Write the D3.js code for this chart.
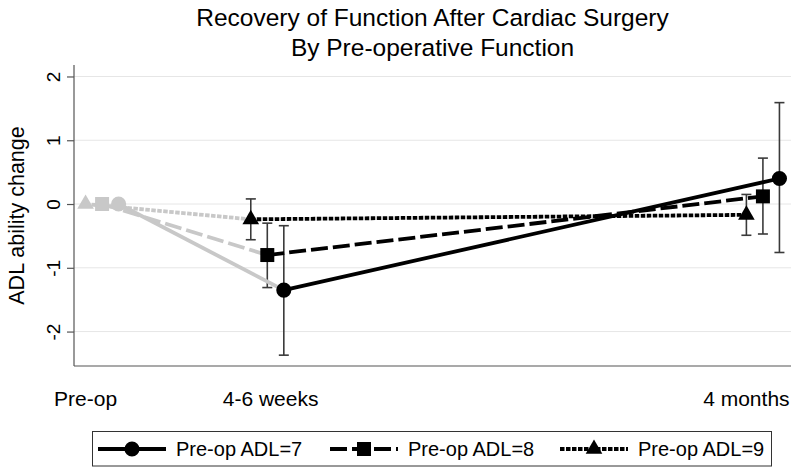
<!DOCTYPE html>
<html>
<head>
<meta charset="utf-8">
<script src="https://cdn.jsdelivr.net/npm/d3@7"></script>
<style>
  html, body { margin: 0; padding: 0; background: #fff; }
  svg { display: block; }
  text { font-family: "Liberation Sans", Arial, Helvetica, sans-serif; fill: #000; }
</style>
</head>
<body>
<svg id="chart" width="800" height="475"></svg>
<script>
// ---- data ----
const titleLines = ["Recovery of Function After Cardiac Surgery", "By Pre-operative Function"];
const yTitle = "ADL ability change";
const timeValues = [0, 1, 4];                  // Pre-op, 4-6 weeks, 4 months (months)
const xTickLabels = ["Pre-op", "4-6 weeks", "4 months"];
const xTickPositions = [-0.1, 1.02, 3.9];
const yTicks = [-2, -1, 0, 1, 2];
const seriesNames = ["Pre-op ADL=7", "Pre-op ADL=8", "Pre-op ADL=9"];
const seriesOffsets = [0.1, 0, -0.1];
const adl7Mean = [0, -1.35, 0.40];
const adl7Low  = [null, -2.37, -0.76];
const adl7High = [null, -0.34, 1.59];
const adl8Mean = [0, -0.80, 0.12];
const adl8Low  = [null, -1.31, -0.47];
const adl8High = [null, -0.30, 0.72];
const adl9Mean = [0, -0.24, -0.17];
const adl9Low  = [null, -0.56, -0.49];
const adl9High = [null, 0.08, 0.15];

const series = [
  { name: seriesNames[0], off: seriesOffsets[0], mean: adl7Mean, lo: adl7Low, hi: adl7High, symbol: d3.symbolCircle, size: 180, dash: null },
  { name: seriesNames[1], off: seriesOffsets[1], mean: adl8Mean, lo: adl8Low, hi: adl8High, symbol: d3.symbolSquare, size: 196, dash: "17,5" },
  { name: seriesNames[2], off: seriesOffsets[2], mean: adl9Mean, lo: adl9Low, hi: adl9High, symbol: d3.symbolTriangle, size: 120, dash: "4.5,1.5" }
];

// ---- layout ----
const svg = d3.select("#chart");
const plot = { left: 74, right: 791, top: 65, bottom: 366 };
const x = d3.scaleLinear().domain([-0.17, 4.17]).range([plot.left, plot.right]);
const y = d3.scaleLinear().domain([-2.54, 2.18]).range([plot.bottom, plot.top]);
const gray = "#c8c8c8";
const lw = 3.8;

// gridlines
svg.append("g").selectAll("line").data(yTicks).join("line")
  .attr("x1", plot.left).attr("x2", plot.right)
  .attr("y1", d => y(d)).attr("y2", d => y(d))
  .attr("stroke", "#e6e6e6").attr("stroke-width", 1);

// y axis
const yAxis = svg.append("g").attr("transform", `translate(${plot.left},0)`)
  .call(d3.axisLeft(y).tickValues(yTicks).tickSize(7).tickFormat(d => String(d)));
yAxis.select(".domain").attr("d", `M0,${plot.top}V${plot.bottom}`).attr("stroke", "#555").attr("stroke-width", 1.2);
yAxis.selectAll(".tick line").attr("stroke", "#555").attr("stroke-width", 1.2);
yAxis.selectAll(".tick text")
  .attr("x", 0).attr("y", 0).attr("dy", 0)
  .attr("transform", "translate(-14,0) rotate(-90)")
  .attr("text-anchor", "middle")
  .style("font-size", "19px").style("font-family", "'Liberation Sans', Arial, sans-serif").attr("fill", "#000");

// x axis
svg.append("line").attr("x1", plot.left).attr("x2", plot.right)
  .attr("y1", plot.bottom).attr("y2", plot.bottom).attr("stroke", "#555").attr("stroke-width", 1.2);
svg.append("g").selectAll("text").data(xTickLabels).join("text")
  .attr("x", (d, i) => x(xTickPositions[i])).attr("y", 406)
  .attr("text-anchor", "middle").style("font-size", "21px").text(d => d);

// titles
svg.append("g").selectAll("text").data(titleLines).join("text")
  .attr("x", (plot.left + plot.right) / 2).attr("y", (d, i) => 26 + i * 30)
  .attr("text-anchor", "middle").style("font-size", "24.5px").text(d => d);
svg.append("text")
  .attr("transform", `translate(24,${(plot.top + plot.bottom) / 2}) rotate(-90)`)
  .attr("text-anchor", "middle").style("font-size", "21.5px").text(yTitle);

// error bars
const eb = svg.append("g");
series.forEach(s => {
  timeValues.forEach((t, i) => {
    if (s.lo[i] == null) return;
    const cx = x(t + s.off);
    eb.append("line").attr("x1", cx).attr("x2", cx).attr("y1", y(s.lo[i])).attr("y2", y(s.hi[i]))
      .attr("stroke", "#3a3a3a").attr("stroke-width", 1.6);
    [s.lo[i], s.hi[i]].forEach(v => {
      eb.append("line").attr("x1", cx - 5).attr("x2", cx + 5).attr("y1", y(v)).attr("y2", y(v))
        .attr("stroke", "#3a3a3a").attr("stroke-width", 1.6);
    });
  });
});

// lines
const lineGen = d3.line().x(d => x(d[0])).y(d => y(d[1]));
const lg = svg.append("g");
series.forEach(s => {
  const pts = timeValues.map((t, i) => [t + s.off, s.mean[i]]);
  lg.append("path").attr("d", lineGen(pts.slice(0, 2))).attr("fill", "none")
    .attr("stroke", gray).attr("stroke-width", lw).attr("stroke-dasharray", s.dash);
  lg.append("path").attr("d", lineGen(pts.slice(1))).attr("fill", "none")
    .attr("stroke", "#000").attr("stroke-width", lw).attr("stroke-dasharray", s.dash);
});

// markers
const mg = svg.append("g");
series.forEach(s => {
  timeValues.forEach((t, i) => {
    mg.append("path").attr("d", d3.symbol().type(s.symbol).size(s.size)())
      .attr("transform", `translate(${x(t + s.off)},${y(s.mean[i])})`)
      .attr("fill", i === 0 ? gray : "#000");
  });
});

// legend
const leg = svg.append("g");
leg.append("rect").attr("x", 92.5).attr("y", 431.5).attr("width", 679).attr("height", 34.5)
  .attr("fill", "#fff").attr("stroke", "#333").attr("stroke-width", 1);
const legX = [98, 330, 560];
series.forEach((s, i) => {
  const g = leg.append("g").attr("transform", `translate(${legX[i]},449)`);
  g.append("line").attr("x1", 0).attr("x2", 68).attr("y1", 0).attr("y2", 0)
    .attr("stroke", "#000").attr("stroke-width", lw).attr("stroke-dasharray", s.dash);
  g.append("path").attr("d", d3.symbol().type(s.symbol).size(s.size)())
    .attr("transform", "translate(34,0)").attr("fill", "#000");
  g.append("text").attr("x", 78).attr("y", 7).style("font-size", "20px").text(s.name);
});
</script>
</body>
</html>
